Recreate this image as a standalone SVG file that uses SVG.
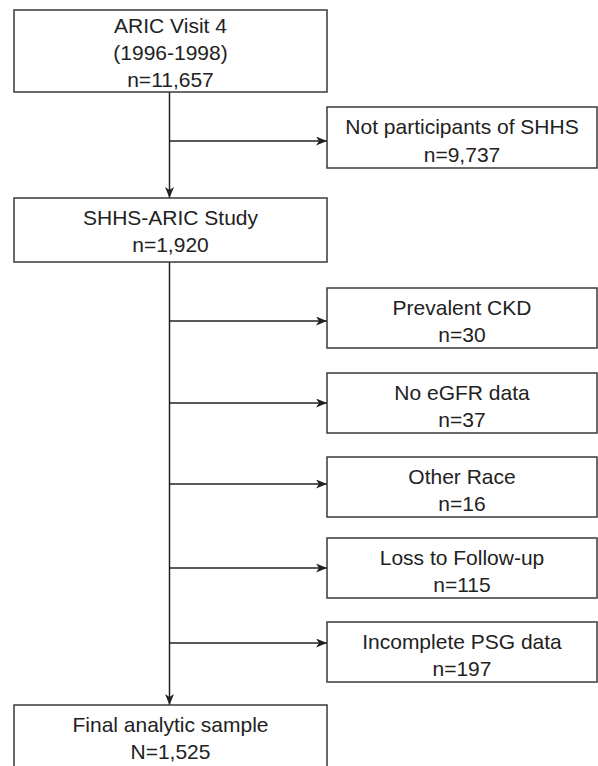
<svg xmlns="http://www.w3.org/2000/svg" width="598" height="766" viewBox="0 0 598 766">
<defs>
<style>
.box{fill:#fff;stroke:#3a3a3a;stroke-width:1.5}
.t{font-family:"Liberation Sans",Arial,Helvetica,sans-serif;font-size:21px;fill:#222;text-anchor:middle}
.ar{stroke:#222;stroke-width:1.5;fill:none;marker-end:url(#ah)}
</style>
<marker id="ah" viewBox="0 0 11 9" refX="11" refY="4.5" markerWidth="11" markerHeight="9" markerUnits="userSpaceOnUse" orient="auto">
<path d="M0,0 L11,4.5 L0,9 L3,4.5 z" fill="#222"/>
</marker>
</defs>
<rect width="598" height="766" fill="#fff"/>
<g id="connectors">
<line class="ar" x1="169.5" y1="92" x2="169.5" y2="198"/>
<line class="ar" x1="169.5" y1="141" x2="327" y2="141"/>
<line class="ar" x1="169.5" y1="262" x2="169.5" y2="705"/>
<line class="ar" x1="169.5" y1="321" x2="327" y2="321"/>
<line class="ar" x1="169.5" y1="403" x2="327" y2="403"/>
<line class="ar" x1="169.5" y1="484" x2="327" y2="484"/>
<line class="ar" x1="169.5" y1="568" x2="327" y2="568"/>
<line class="ar" x1="169.5" y1="643" x2="327" y2="643"/>
</g>
<g id="n1">
<rect class="box" x="14" y="10" width="313" height="82"/>
<text class="t" x="170.5" y="33">ARIC Visit 4</text>
<text class="t" x="170.5" y="60">(1996-1998)</text>
<text class="t" x="170.5" y="87">n=11,657</text>
</g>
<g id="n2">
<rect class="box" x="327" y="107" width="270" height="61"/>
<text class="t" x="462" y="134">Not participants of SHHS</text>
<text class="t" x="462" y="162">n=9,737</text>
</g>
<g id="n3">
<rect class="box" x="14" y="198" width="313" height="64"/>
<text class="t" x="170.5" y="225">SHHS-ARIC Study</text>
<text class="t" x="170.5" y="252">n=1,920</text>
</g>
<g id="n4">
<rect class="box" x="327" y="288" width="270" height="60"/>
<text class="t" x="462" y="315">Prevalent CKD</text>
<text class="t" x="462" y="342">n=30</text>
</g>
<g id="n5">
<rect class="box" x="327" y="373" width="270" height="60"/>
<text class="t" x="462" y="400">No eGFR data</text>
<text class="t" x="462" y="427">n=37</text>
</g>
<g id="n6">
<rect class="box" x="327" y="457" width="270" height="60"/>
<text class="t" x="462" y="484">Other Race</text>
<text class="t" x="462" y="511">n=16</text>
</g>
<g id="n7">
<rect class="box" x="327" y="538" width="270" height="60"/>
<text class="t" x="462" y="565">Loss to Follow-up</text>
<text class="t" x="462" y="592">n=115</text>
</g>
<g id="n8">
<rect class="box" x="327" y="622" width="270" height="60"/>
<text class="t" x="462" y="649">Incomplete PSG data</text>
<text class="t" x="462" y="676">n=197</text>
</g>
<g id="n9">
<rect class="box" x="14" y="705" width="313" height="75"/>
<text class="t" x="170.5" y="732">Final analytic sample</text>
<text class="t" x="170.5" y="759">N=1,525</text>
</g>
</svg>
